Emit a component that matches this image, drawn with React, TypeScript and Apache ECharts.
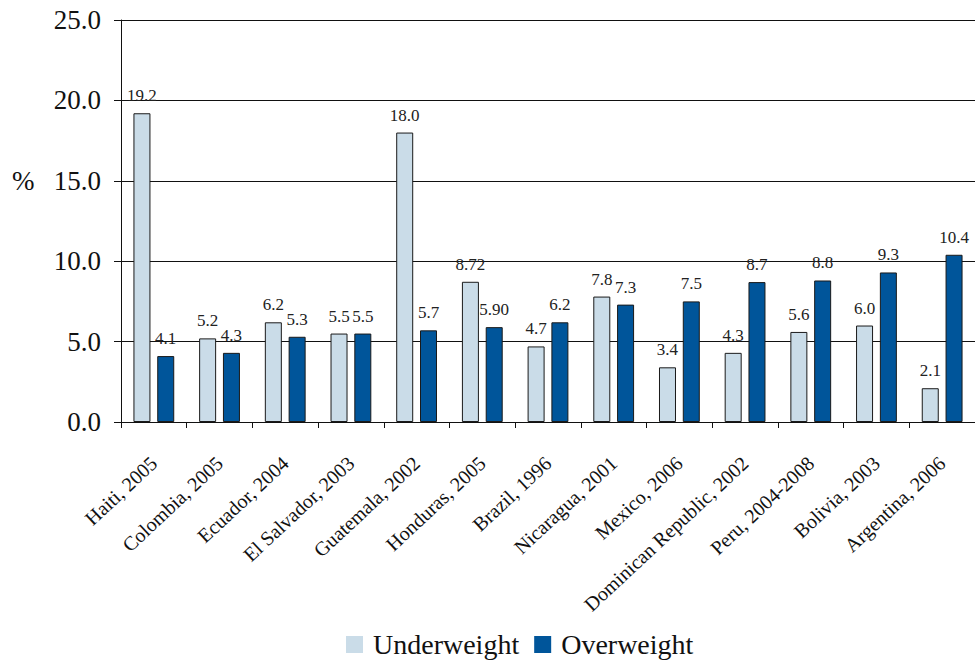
import React, { useEffect, useRef } from "react";
import * as echarts from "echarts";

const categories = [
  "Haiti, 2005",
  "Colombia, 2005",
  "Ecuador, 2004",
  "El Salvador, 2003",
  "Guatemala, 2002",
  "Honduras, 2005",
  "Brazil, 1996",
  "Nicaragua, 2001",
  "Mexico, 2006",
  "Dominican Republic, 2002",
  "Peru, 2004-2008",
  "Bolivia, 2003",
  "Argentina, 2006",
];
const underweight = [19.2, 5.2, 6.2, 5.5, 18.0, 8.72, 4.7, 7.8, 3.4, 4.3, 5.6, 6.0, 2.1];
const underweightLabels = ["19.2", "5.2", "6.2", "5.5", "18.0", "8.72", "4.7", "7.8", "3.4", "4.3", "5.6", "6.0", "2.1"];
const overweight = [4.1, 4.3, 5.3, 5.5, 5.7, 5.9, 6.2, 7.3, 7.5, 8.7, 8.8, 9.3, 10.4];
const overweightLabels = ["4.1", "4.3", "5.3", "5.5", "5.7", "5.90", "6.2", "7.3", "7.5", "8.7", "8.8", "9.3", "10.4"];

const FONT = "Liberation Serif";

export default function App() {
  const ref = useRef<HTMLDivElement>(null);
  useEffect(() => {
    if (!ref.current) return;
    const chart = echarts.init(ref.current, null, { renderer: "svg" });
    const labelCfg = (labels: string[]) => ({
      show: true,
      position: "top",
      distance: 9,
      color: "#222",
      fontFamily: FONT,
      fontSize: 17,
      formatter: (p: any) => labels[p.dataIndex],
    });
    chart.setOption({
      animation: false,
      backgroundColor: "#fff",
      textStyle: { fontFamily: FONT },
      grid: { left: 121, top: 20, width: 862, height: 402, containLabel: false },
      legend: {
        top: 630,
        left: 346,
        padding: 0,
        itemWidth: 17,
        itemHeight: 17,
        itemGap: 15,
        icon: "rect",
        itemStyle: { borderWidth: 0 },
        textStyle: {
          fontFamily: FONT,
          fontSize: 28,
          lineHeight: 29,
          color: "#111",
          padding: [0, 0, 0, 5],
        },
        data: ["Underweight", "Overweight"],
      },
      xAxis: {
        type: "category",
        data: categories,
        axisLine: { lineStyle: { color: "#111", width: 1 } },
        axisTick: { show: true, length: 6, lineStyle: { color: "#111" } },
        axisLabel: {
          rotate: 43,
          interval: 0,
          margin: 38,
          fontFamily: FONT,
          fontSize: 20,
          color: "#111",
        },
      },
      yAxis: {
        type: "value",
        min: 0,
        max: 25,
        interval: 5,
        axisLine: { show: true, lineStyle: { color: "#111", width: 1 } },
        axisTick: { show: true, length: 7, lineStyle: { color: "#111" } },
        splitLine: { show: true, lineStyle: { color: "#111", width: 1 } },
        axisLabel: {
          formatter: (v: number) => v.toFixed(1),
          fontFamily: FONT,
          fontSize: 27,
          color: "#111",
          margin: 20,
        },
      },
      graphic: [
        {
          type: "text",
          left: 12,
          top: 167,
          style: { text: "%", fontFamily: FONT, fontSize: 27, fill: "#111" },
        },
      ],
      series: [
        {
          name: "Underweight",
          type: "bar",
          data: underweight,
          barWidth: 17,
          barGap: "40%",
          itemStyle: { color: "#CADCE8", borderColor: "#1a1a1a", borderWidth: 1 },
          label: labelCfg(underweightLabels),
        },
        {
          name: "Overweight",
          type: "bar",
          data: overweight,
          barWidth: 17,
          barGap: "40%",
          itemStyle: { color: "#00559A", borderColor: "#1a1a1a", borderWidth: 1 },
          label: labelCfg(overweightLabels),
        },
      ],
    });
    return () => chart.dispose();
  }, []);
  return (
    <div
      ref={ref}
      style={{ position: "fixed", left: 0, top: 0, width: 975, height: 660 }}
    />
  );
}
